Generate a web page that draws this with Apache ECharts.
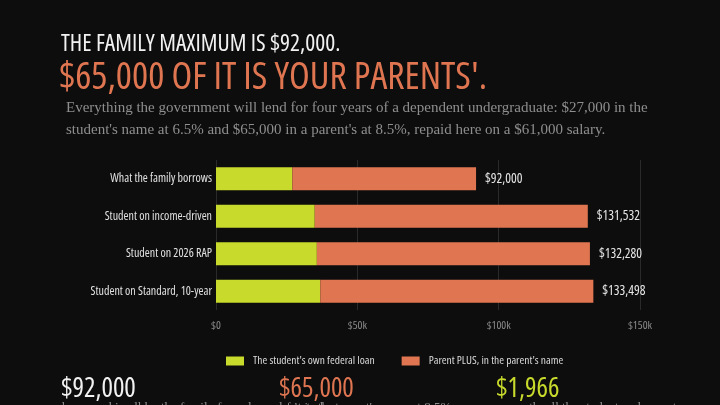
<!DOCTYPE html>
<html>
<head>
<meta charset="utf-8">
<script src="https://cdn.jsdelivr.net/npm/echarts@6/dist/echarts.min.js"></script>
<style>
  html, body { margin: 0; padding: 0; background: #0d0d0d; }
  #main { width: 720px; height: 405px; }
</style>
</head>
<body>
<div id="main"></div>
<script>
// rows, top to bottom as drawn
var categories = ['What the family borrows', 'Student on income-driven', 'Student on 2026 RAP', 'Student on Standard, 10-year'];
var studentLoan = [27000, 34932, 35680, 36898];
var parentPlus = [65000, 96600, 96600, 96600];
var totals = [92000, 131532, 132280, 133498];
var xTicks = ['$0', '$50k', '$100k', '$150k'];

// Open Sans has a condensed face here; ask for it through font-stretch
var COND = "'Open Sans'";
var STRETCH = 'condensed';
var SERIF = "'Liberation Serif', 'DejaVu Serif', serif";
var GREEN = '#c8da2b';
var ORANGE = '#e07651';

function cond(size, extra) {
    return Object.assign({ fontFamily: COND, fontWeight: STRETCH, fontSize: size }, extra || {});
}

var chart = echarts.init(document.getElementById('main'));

function money(v) {
    return '$' + v.toLocaleString('en-US');
}

chart.setOption({
    backgroundColor: '#0d0d0d',
    animation: false,
    title: [
        {
            text: "Everything the government will lend for four years of a dependent undergraduate: $27,000 in the\nstudent's name at 6.5% and $65,000 in a parent's at 8.5%, repaid here on a $61,000 salary.",
            left: 61, top: 92,
            textStyle: { color: '#8e8e8e', fontFamily: SERIF, fontSize: 15, lineHeight: 22, fontWeight: 'normal' }
        }
    ],
    legend: {
        left: 221, top: 350,
        itemWidth: 18, itemHeight: 9, itemGap: 27,
        icon: 'rect',
        textStyle: cond(11.5, { color: '#d8d8d8', padding: [0, 0, 0, 4] }),
        data: ["The student's own federal loan", "Parent PLUS, in the parent's name"]
    },
    grid: { left: 216, right: 80, top: 160, bottom: 95, containLabel: false },
    xAxis: {
        type: 'value',
        min: 0, max: 150000, interval: 50000,
        axisLine: { show: false },
        axisTick: { show: false },
        splitLine: { show: true, lineStyle: { color: '#2a2a2a', width: 1 } },
        axisLabel: cond(11.5, {
            color: '#8a8a8a', margin: 10,
            formatter: function (v) { return xTicks[v / 50000]; }
        })
    },
    yAxis: {
        type: 'category',
        inverse: true,
        data: categories,
        axisLine: { show: false },
        axisTick: { show: false },
        axisLabel: cond(12, { color: '#e0e0e0', margin: 4 })
    },
    series: [
        {
            name: "The student's own federal loan",
            type: 'bar', stack: 'total',
            barWidth: 23,
            itemStyle: { color: GREEN },
            data: studentLoan
        },
        {
            name: "Parent PLUS, in the parent's name",
            type: 'bar', stack: 'total',
            barWidth: 23,
            itemStyle: { color: ORANGE },
            label: Object.assign({
                show: true, position: 'right', distance: 9,
                color: '#e6e6e6',
                formatter: function (p) { return money(totals[p.dataIndex]); }
            }, cond(13.5)),
            data: parentPlus
        }
    ],
    graphic: [
        { type: 'text', left: 61, top: 32, style: { text: 'THE FAMILY MAXIMUM IS $92,000.', fill: '#f2f2f2', font: STRETCH + " 23.5px " + COND } },
        { type: 'text', left: 59, top: 59, style: { text: "$65,000 OF IT IS YOUR PARENTS'.", fill: ORANGE, font: STRETCH + " 38px " + COND } },
        { type: 'text', left: 61, top: 376, style: { text: '$92,000', fill: '#f2f2f2', font: STRETCH + " 27px " + COND } },
        { type: 'text', left: 279, top: 376, style: { text: '$65,000', fill: ORANGE, font: STRETCH + " 27px " + COND } },
        { type: 'text', left: 496, top: 376, style: { text: '$1,966', fill: GREEN, font: STRETCH + " 27px " + COND } },
        { type: 'text', left: 62, top: 401, style: { text: 'borrowed in all by the family for a dependent student', fill: '#8e8e8e', font: "13px " + SERIF } },
        { type: 'text', left: 280, top: 401, style: { text: "of it in the parent's name at 8.5%", fill: '#8e8e8e', font: "13px " + SERIF } },
        { type: 'text', left: 497, top: 401, style: { text: 'a month, all the student and parent pay', fill: '#8e8e8e', font: "13px " + SERIF } }
    ]
});
</script>
</body>
</html>
